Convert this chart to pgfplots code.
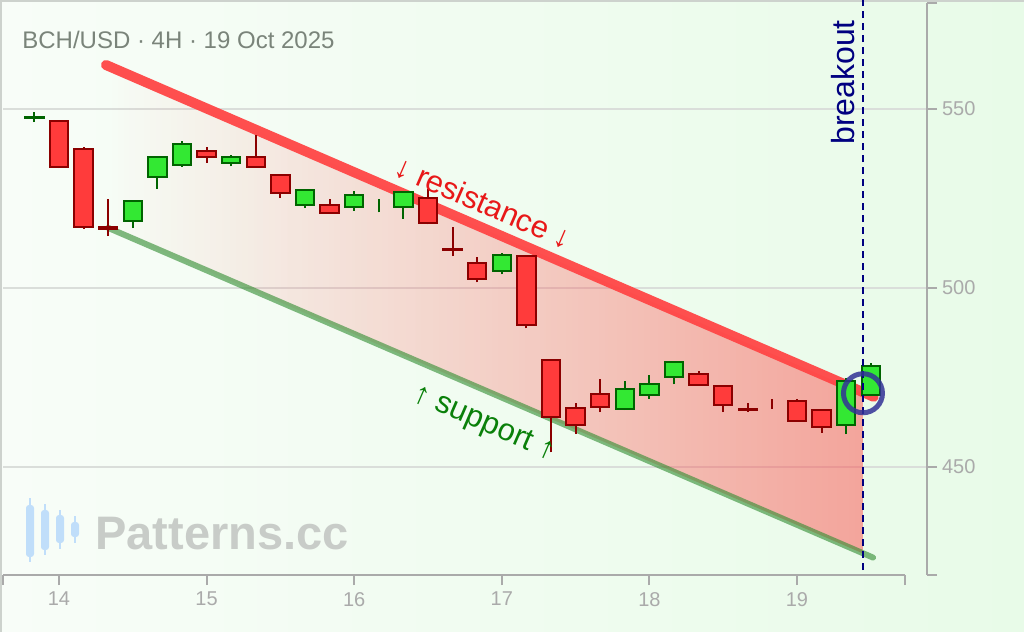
\documentclass[border=0pt]{standalone}
\usepackage{fontspec}
\setmainfont{Liberation Sans}
\usepackage{pgfplots}
\usepackage{pgfplotstable}
\pgfplotsset{compat=1.18}
\usetikzlibrary{fadings}

\definecolor{bgl}{RGB}{248,253,248}
\definecolor{bgr}{RGB}{232,251,232}
\definecolor{framegray}{RGB}{205,210,205}
\definecolor{axisgray}{RGB}{170,170,170}
\definecolor{gridgray}{RGB}{218,222,218}
\definecolor{titlegray}{RGB}{122,132,122}
\definecolor{wmgray}{RGB}{200,204,200}
\definecolor{logoblue}{RGB}{192,222,250}
\definecolor{cgf}{RGB}{51,232,51}
\definecolor{cgd}{RGB}{0,100,0}
\definecolor{crf}{RGB}{255,59,59}
\definecolor{crd}{RGB}{139,0,0}
\definecolor{resline}{RGB}{255,70,70}
\definecolor{supline}{RGB}{46,139,46}
\definecolor{chan}{RGB}{255,60,60}
\definecolor{navy}{RGB}{0,0,128}
\definecolor{circblue}{RGB}{50,50,150}
\definecolor{restext}{RGB}{232,24,24}
\definecolor{suptext}{RGB}{10,128,10}

\tikzfading[name=fadein, left color=transparent!100, right color=transparent!0]

% 4H candles: x (day), open, high, low, close, k = body drawn
\pgfplotstableread{
x       o     h     l     c     k
13.8333 547.4 549.2 546.3 547.8 1
14.0000 546.7 547.0 533.5 533.7 1
14.1667 538.9 539.3 516.6 517.0 1
14.3333 517.0 524.9 514.5 516.6 1
14.5000 518.7 524.6 516.7 524.4 1
14.6667 530.9 537.0 527.7 536.7 1
14.8333 534.3 541.1 533.9 540.1 1
15.0000 538.4 539.3 535.0 536.6 1
15.1667 534.9 537.1 534.0 536.7 1
15.3333 536.7 542.7 533.6 533.8 1
15.5000 531.6 531.8 525.1 526.5 1
15.6667 523.1 527.7 522.3 527.3 1
15.8333 523.3 524.9 520.8 521.0 1
16.0000 522.6 527.0 521.6 526.1 1
16.1667 523.0 524.9 521.1 523.0 0
16.3333 522.6 526.9 519.4 526.7 1
16.5000 525.0 527.6 517.8 518.2 1
16.6667 510.9 517.0 508.9 510.5 1
16.8333 507.1 508.6 501.6 502.6 1
17.0000 504.7 509.7 503.8 509.3 1
17.1667 508.9 509.1 488.7 489.8 1
17.3333 479.8 480.0 454.1 463.9 1
17.5000 466.4 467.8 459.2 461.7 1
17.6667 470.3 474.5 465.3 466.8 1
17.8333 466.1 473.9 465.9 471.9 1
18.0000 470.1 475.7 469.1 473.1 1
18.1667 475.1 479.6 473.1 479.2 1
18.3333 475.9 476.8 472.7 472.9 1
18.5000 472.5 472.7 465.3 467.3 1
18.6667 466.3 467.8 465.4 465.8 1
18.8333 467.7 468.9 466.3 467.6 0
19.0000 468.5 468.9 462.7 462.9 1
19.1667 465.8 466.2 459.6 461.2 1
19.3333 461.8 474.9 459.2 474.1 1
19.5000 470.1 479.0 469.9 478.1 1
}\candles

\begin{document}
\begin{tikzpicture}[x=0.5pt,y=0.5pt]
\shade[left color=bgl, right color=bgr] (0,0) rectangle (1024,632);
\draw[framegray, line width=1pt] (1,0) -- (1,631) -- (1024,631);

% watermark
\foreach \lx/\bb/\bt/\wb/\wt in {30/75/127/70/134, 45/82/122/77/128, 60/89/117/83/122, 75/95/110/89/116}{
  \draw[logoblue, line width=1pt] (\lx,\wb) -- (\lx,\wt);
  \fill[logoblue, rounded corners=1.5pt] (\lx-4,\bb) rectangle (\lx+4,\bt);
}
\node[anchor=base west, inner sep=0pt, text=wmgray, font=\bfseries\fontsize{23.5}{28}\selectfont] at (95,82) {Patterns.cc};

\begin{axis}[
  at={(1.5pt,28.5pt)}, anchor=south west,
  scale only axis, width=462pt, height=286pt,
  xmin=13.6206, xmax=19.8808, ymin=419.83, ymax=579.61,
  clip=false,
  axis x line*=bottom, axis y line*=right,
  x axis line style={draw=none},
  axis line style={axisgray, line width=1pt},
  tick style={axisgray, line width=1pt},
  tick align=outside, major tick length=5pt,
  xtick={14,15,16,17,18,19},
  ytick={450,500,550},
  extra x ticks={13.6206,19.732}, extra x tick labels={},
  extra y ticks={419.83,579.61}, extra y tick labels={},
  extra y tick style={grid=none},
  ymajorgrids, major grid style={gridgray, line width=1pt},
  ticklabel style={text=axisgray, font=\fontsize{10}{12}\selectfont},
  yticklabel style={xshift=-1pt},
  /pgf/number format/assume math mode=true,
  /pgf/number format/1000 sep={},
]
\draw[axisgray, line width=1pt] (axis cs:13.6206,419.83) -- (axis cs:19.732,419.83);

% channel fill
\addplot[draw=none, fill=chan, fill opacity=0.45, path fading=fadein]
  coordinates {(14.333,562.0) (19.447,470.65) (19.447,425.9) (14.333,516.8)} -- cycle;
% support and resistance
\addplot[supline, line width=3pt, line cap=round, draw opacity=0.6]
  coordinates {(14.333,516.8) (19.515,424.7)};
\addplot[resline, line width=5pt, line cap=round, draw opacity=0.95]
  coordinates {(14.318,562.3) (19.52,469.6)};

% candles
\pgfplotsinvokeforeach{0,...,34}{%
  \pgfplotstablegetelem{#1}{x}\of\candles \let\cx\pgfplotsretval
  \pgfplotstablegetelem{#1}{o}\of\candles \let\co\pgfplotsretval
  \pgfplotstablegetelem{#1}{h}\of\candles \let\ch\pgfplotsretval
  \pgfplotstablegetelem{#1}{l}\of\candles \let\cl\pgfplotsretval
  \pgfplotstablegetelem{#1}{c}\of\candles \let\cc\pgfplotsretval
  \pgfplotstablegetelem{#1}{k}\of\candles \let\ck\pgfplotsretval
  \pgfmathsetmacro\xa{\cx-0.062}
  \pgfmathsetmacro\xb{\cx+0.062}
  \ifdim\cc pt<\co pt \def\fc{crf}\def\dc{crd}\else \def\fc{cgf}\def\dc{cgd}\fi
  \edef\tmp{\noexpand\addplot[draw=\dc, line width=1pt] coordinates {(\cx,\cl) (\cx,\ch)};}\tmp
  \ifnum\ck=1
    \edef\tmp{\noexpand\addplot[draw=\dc, fill=\fc, line width=1pt] coordinates {(\xa,\co) (\xb,\co) (\xb,\cc) (\xa,\cc)} -- cycle;}\tmp
  \fi
}

% breakout
\addplot[navy, line width=1pt, dash pattern=on 3.5pt off 2.5pt]
  coordinates {(19.447,421.2) (19.447,580.5)};
\addplot[only marks, mark=o, mark size=9.75pt,
  mark options={draw=circblue, line width=2.5pt, draw opacity=0.85}]
  coordinates {(19.447,470.6)};

\node[rotate=90, text=navy, font=\fontsize{16}{19}\selectfont] at (axis cs:19.311,557.4) {breakout};
\node[rotate=-23.4, text=restext, font=\fontsize{15.5}{18}\selectfont] at (axis cs:16.876,523.9) {↓ resistance ↓};
\node[rotate=-23.4, text=suptext, font=\fontsize{15.5}{18}\selectfont] at (axis cs:16.879,462.0) {↑ support ↑};
\end{axis}

\node[anchor=base west, inner sep=0pt, text=titlegray, font=\fontsize{12}{14}\selectfont] at (22,583) {BCH/USD · 4H · 19 Oct 2025};

\pgfresetboundingbox
\useasboundingbox (0,0) rectangle (1024,632);
\end{tikzpicture}
\end{document}
